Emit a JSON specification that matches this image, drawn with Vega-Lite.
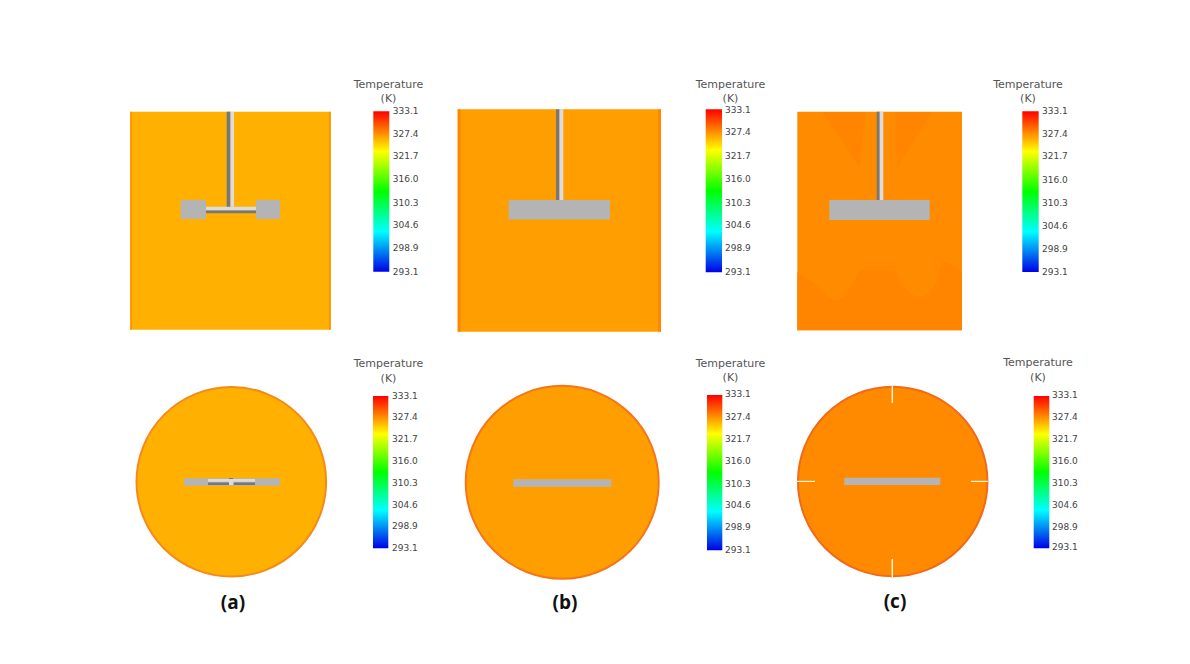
{"$schema":"https://vega.github.io/schema/vega-lite/v6.json","width":1190,"height":664,"padding":0,"autosize":{"type":"fit","contains":"padding"},"background":"#ffffff","view":{"stroke":null},
"datasets":{
"tanks":[
{"panel":"a","part":"body","x":130.3,"x2":330.7,"y":111.7,"y2":329.7,"temperature":326.2},
{"panel":"a","part":"wall","x":130.3,"x2":131.8,"y":111.7,"y2":329.7,"temperature":327.6},
{"panel":"a","part":"wall","x":329.2,"x2":330.7,"y":111.7,"y2":329.7,"temperature":327.6},
{"panel":"b","part":"body","x":457.7,"x2":661,"y":109.3,"y2":331.7,"temperature":326.9},
{"panel":"b","part":"wall","x":457.7,"x2":460.7,"y":109.3,"y2":331.7,"temperature":327.8},
{"panel":"b","part":"wall","x":658,"x2":661,"y":109.3,"y2":331.7,"temperature":327.8},
{"panel":"c","part":"body","x":797.3,"x2":962,"y":111.7,"y2":330.3,"temperature":327.6}],
"zones":[
{"region":"left","x":822,"y":112,"y2":112,"temperature":327.9},
{"region":"left","x":860,"y":168,"y2":112,"temperature":327.9},
{"region":"left","x":865,"y":112,"y2":112,"temperature":327.9},
{"region":"right","x":895,"y":112,"y2":112,"temperature":327.9},
{"region":"right","x":897,"y":168,"y2":112,"temperature":327.9},
{"region":"right","x":932,"y":112,"y2":112,"temperature":327.9}],
"wave":[
{"region":"bottom","x":797.3,"y":272,"y2":330.3,"temperature":327.9},
{"region":"bottom","x":813,"y":283,"y2":330.3,"temperature":327.9},
{"region":"bottom","x":837,"y":300,"y2":330.3,"temperature":327.9},
{"region":"bottom","x":852,"y":285,"y2":330.3,"temperature":327.9},
{"region":"bottom","x":862,"y":270,"y2":330.3,"temperature":327.9},
{"region":"bottom","x":893,"y":270,"y2":330.3,"temperature":327.9},
{"region":"bottom","x":905,"y":288,"y2":330.3,"temperature":327.9},
{"region":"bottom","x":920,"y":297,"y2":330.3,"temperature":327.9},
{"region":"bottom","x":935,"y":285,"y2":330.3,"temperature":327.9},
{"region":"bottom","x":943,"y":262,"y2":330.3,"temperature":327.9},
{"region":"bottom","x":962,"y":272,"y2":330.3,"temperature":327.9}],
"blades":[
{"panel":"a top left","x":180.7,"x2":206,"y":200,"y2":219},
{"panel":"a top right","x":256,"x2":280,"y":200,"y2":219},
{"panel":"b top","x":508.7,"x2":610,"y":200,"y2":219.5},
{"panel":"c top","x":829.3,"x2":929.7,"y":200,"y2":220},
{"panel":"a bottom","x":184,"x2":280,"y":478.3,"y2":485.7},
{"panel":"b bottom","x":513.3,"x2":611.3,"y":479.3,"y2":486.7},
{"panel":"c bottom","x":844.3,"x2":940.3,"y":477.7,"y2":485}],
"shaftDark":[
{"x":226.7,"x2":230.5,"y":111.7,"y2":207},
{"x":206,"x2":256,"y":210.3,"y2":213.3},
{"x":556,"x2":559.5,"y":109.3,"y2":200},
{"x":876.7,"x2":879.7,"y":111.7,"y2":200},
{"x":208,"x2":255,"y":482.5,"y2":485},
{"x":229,"x2":233,"y":478,"y2":481}],
"shaftLight":[
{"x":230.5,"x2":234,"y":111.7,"y2":206.7},
{"x":206,"x2":256,"y":206.7,"y2":210.3},
{"x":559.5,"x2":563.3,"y":109.3,"y2":200},
{"x":879.7,"x2":883.3,"y":111.7,"y2":200},
{"x":208,"x2":255,"y":479,"y2":481.7},
{"x":229,"x2":233.5,"y":481,"y2":485}],
"baffles":[
{"x":891.6,"x2":893,"y":386,"y2":403},
{"x":891.6,"x2":893,"y":559,"y2":577},
{"x":797,"x2":815,"y":480.8,"y2":482},
{"x":971,"x2":988,"y":480.8,"y2":482}],
"bars":[
{"x":373.3,"x2":389.3,"y":111.3,"y2":271.7},
{"x":705.7,"x2":722,"y":109.3,"y2":272.3},
{"x":1022.3,"x2":1038.7,"y":111.3,"y2":272},
{"x":373,"x2":388.3,"y":396,"y2":548.3},
{"x":707,"x2":722.3,"y":395,"y2":550.3},
{"x":1033.7,"x2":1049.3,"y":396,"y2":548.3}],
"ticks":[
{"x":392.7,"y":111,"t":"333.1"},{"x":392.7,"y":134,"t":"327.4"},{"x":392.7,"y":156,"t":"321.7"},{"x":392.7,"y":179,"t":"316.0"},{"x":392.7,"y":203,"t":"310.3"},{"x":392.7,"y":225,"t":"304.6"},{"x":392.7,"y":248,"t":"298.9"},{"x":392.7,"y":272,"t":"293.1"},
{"x":725,"y":109.5,"t":"333.1"},{"x":725,"y":132,"t":"327.4"},{"x":725,"y":156,"t":"321.7"},{"x":725,"y":179,"t":"316.0"},{"x":725,"y":203,"t":"310.3"},{"x":725,"y":225,"t":"304.6"},{"x":725,"y":248,"t":"298.9"},{"x":725,"y":272,"t":"293.1"},
{"x":1042,"y":111,"t":"333.1"},{"x":1042,"y":134,"t":"327.4"},{"x":1042,"y":156,"t":"321.7"},{"x":1042,"y":180,"t":"316.0"},{"x":1042,"y":203,"t":"310.3"},{"x":1042,"y":226,"t":"304.6"},{"x":1042,"y":249,"t":"298.9"},{"x":1042,"y":272,"t":"293.1"},
{"x":392,"y":396,"t":"333.1"},{"x":392,"y":417,"t":"327.4"},{"x":392,"y":439,"t":"321.7"},{"x":392,"y":461,"t":"316.0"},{"x":392,"y":483,"t":"310.3"},{"x":392,"y":505,"t":"304.6"},{"x":392,"y":526,"t":"298.9"},{"x":392,"y":548,"t":"293.1"},
{"x":725,"y":394,"t":"333.1"},{"x":725,"y":417,"t":"327.4"},{"x":725,"y":439,"t":"321.7"},{"x":725,"y":461,"t":"316.0"},{"x":725,"y":484,"t":"310.3"},{"x":725,"y":505,"t":"304.6"},{"x":725,"y":527,"t":"298.9"},{"x":725,"y":550,"t":"293.1"},
{"x":1052,"y":395,"t":"333.1"},{"x":1052,"y":417,"t":"327.4"},{"x":1052,"y":439,"t":"321.7"},{"x":1052,"y":461,"t":"316.0"},{"x":1052,"y":483,"t":"310.3"},{"x":1052,"y":505,"t":"304.6"},{"x":1052,"y":527,"t":"298.9"},{"x":1052,"y":547,"t":"293.1"}],
"titles":[
{"x":388.5,"y":85,"t":"Temperature"},{"x":388.5,"y":99,"t":"(K)"},
{"x":730.5,"y":85,"t":"Temperature"},{"x":730.5,"y":99,"t":"(K)"},
{"x":1028,"y":85,"t":"Temperature"},{"x":1028,"y":99,"t":"(K)"},
{"x":388.5,"y":364,"t":"Temperature"},{"x":388.5,"y":379,"t":"(K)"},
{"x":730.5,"y":364,"t":"Temperature"},{"x":730.5,"y":378,"t":"(K)"},
{"x":1038,"y":363,"t":"Temperature"},{"x":1038,"y":378,"t":"(K)"}],
"captions":[
{"x":233,"y":603,"t":"(a)"},{"x":565,"y":603,"t":"(b)"},{"x":895,"y":602,"t":"(c)"}]
},
"encoding":{
"x":{"field":"x","type":"quantitative","axis":null,"scale":{"domain":[0,1190],"nice":false,"zero":false}},
"y":{"field":"y","type":"quantitative","axis":null,"scale":{"domain":[664,0],"nice":false,"zero":false}}
},
"layer":[
{"data":{"name":"tanks"},"mark":{"type":"rect"},"encoding":{"x2":{"field":"x2"},"y2":{"field":"y2"},"color":{"field":"temperature","type":"quantitative","legend":null,"scale":{"domain":[293.1,303.1,313.1,323.1,333.1],"range":["#0000ff","#00ffff","#00ff00","#ffff00","#ff0000"],"interpolate":"rgb"}}}},
{"data":{"name":"zones"},"mark":{"type":"area","opacity":1},"encoding":{"y2":{"field":"y2"},"detail":{"field":"region"},"color":{"field":"temperature","type":"quantitative","legend":null}}},
{"data":{"name":"wave"},"mark":{"type":"area","opacity":1,"interpolate":"monotone"},"encoding":{"y2":{"field":"y2"},"detail":{"field":"region"},"color":{"field":"temperature","type":"quantitative","legend":null}}},
{"data":{"values":[{"panel":"a","x":231.3,"y":481.7,"temperature":326.2}]},"mark":{"type":"circle","opacity":1,"size":35948,"stroke":"#f58a1a","strokeWidth":2},"encoding":{"color":{"field":"temperature","type":"quantitative","legend":null}}},
{"data":{"values":[{"panel":"b","x":562.2,"y":482.3,"temperature":326.9}]},"mark":{"type":"circle","opacity":1,"size":37249,"stroke":"#f5761a","strokeWidth":2},"encoding":{"color":{"field":"temperature","type":"quantitative","legend":null}}},
{"data":{"values":[{"panel":"c","x":892.7,"y":481.5,"temperature":327.7}]},"mark":{"type":"circle","opacity":1,"size":35910,"stroke":"#f06a1a","strokeWidth":2},"encoding":{"color":{"field":"temperature","type":"quantitative","legend":null}}},
{"data":{"name":"blades"},"mark":{"type":"rect","fill":"#b4b4b4"},"encoding":{"x2":{"field":"x2"},"y2":{"field":"y2"}}},
{"data":{"name":"shaftDark"},"mark":{"type":"rect","fill":"#77777a"},"encoding":{"x2":{"field":"x2"},"y2":{"field":"y2"}}},
{"data":{"name":"shaftLight"},"mark":{"type":"rect","fill":"#dcdcdc"},"encoding":{"x2":{"field":"x2"},"y2":{"field":"y2"}}},
{"data":{"name":"baffles"},"mark":{"type":"rect","fill":"#fff6e0"},"encoding":{"x2":{"field":"x2"},"y2":{"field":"y2"}}},
{"data":{"name":"bars"},"mark":{"type":"rect","color":{"gradient":"linear","x1":0,"y1":1,"x2":0,"y2":0,"stops":[{"offset":0,"color":"#0000e6"},{"offset":0.25,"color":"#00ffff"},{"offset":0.5,"color":"#00ff00"},{"offset":0.75,"color":"#ffff00"},{"offset":1,"color":"#ff0000"}]}},"encoding":{"x2":{"field":"x2"},"y2":{"field":"y2"}}},
{"data":{"name":"ticks"},"mark":{"type":"text","align":"left","baseline":"middle","font":"DejaVu Sans","fontSize":9,"fill":"#444444"},"encoding":{"text":{"field":"t"}}},
{"data":{"name":"titles"},"mark":{"type":"text","align":"center","baseline":"middle","font":"DejaVu Sans","fontSize":11,"fill":"#555555"},"encoding":{"text":{"field":"t"}}},
{"data":{"name":"captions"},"mark":{"type":"text","align":"center","baseline":"middle","font":"Open Sans","fontSize":19,"fontWeight":"bold","fill":"#111111"},"encoding":{"text":{"field":"t"}}}
]}
